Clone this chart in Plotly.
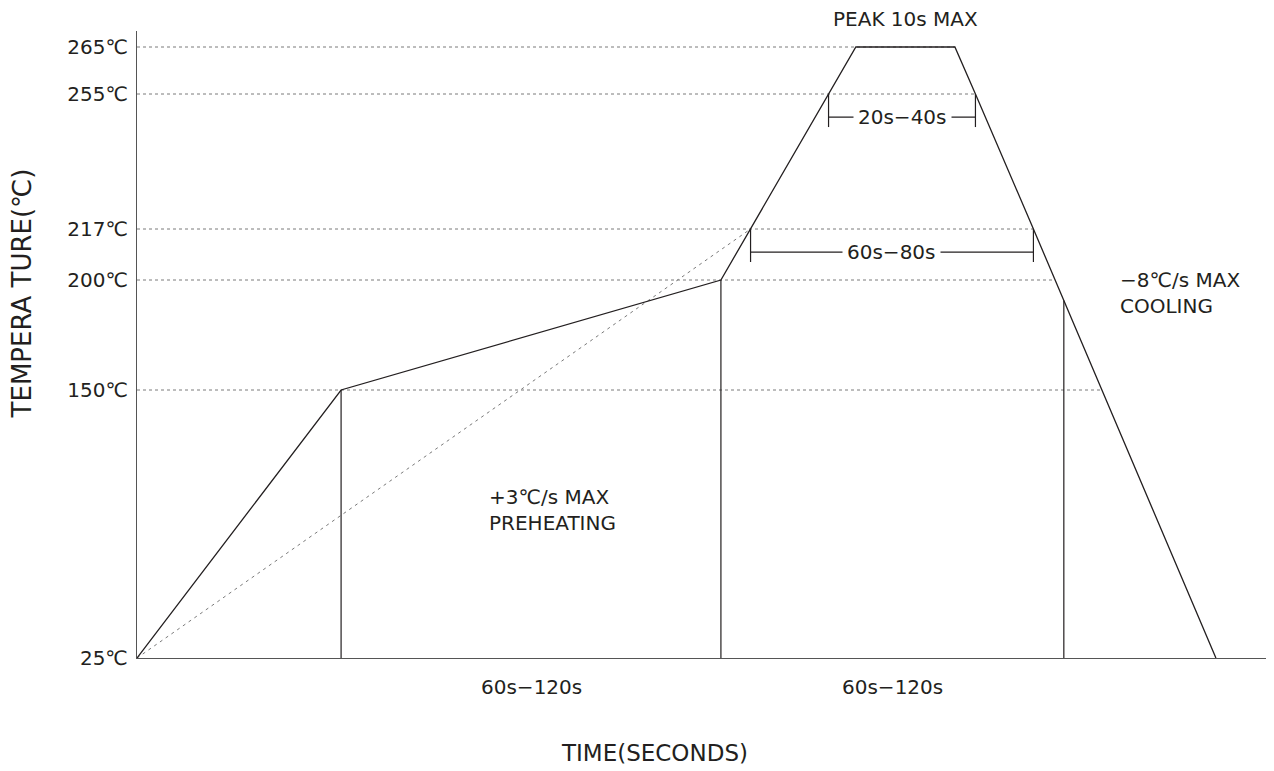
import numpy as np
import plotly.graph_objects as go

# ---- data ----
TEMP_TICKS = [25, 150, 200, 217, 255, 265]
TICK_TEXT = ["25℃", "150℃", "200℃", "217℃", "255℃", "265℃"]
# non-linear axis scale: axis position of each tick temperature
AXIS_LEVEL = [0, 268, 378, 429, 564, 611]

PROFILE_TIME = [0, 78.5, 224.6, 236, 266, 276.5, 314.6, 322.5, 344.8, 415]
PROFILE_TEMP = [25, 150, 200, 217, 255, 265, 265, 255, 217, 25]

MARK_TIMES = [78.5, 224.6, 356.5]          # vertical phase markers
GRID_TEMPS = [150, 200, 217, 255, 265]       # dashed reference levels
REF_START = (0, 25)                          # dotted reference line
REF_END = (236, 217)

DIM_20_40 = dict(t0=266, t1=322.5, temp=248.5, tick_lo=245.7, tick_hi=255, label="20s−40s")
DIM_60_80 = dict(t0=236, t1=344.8, temp=209.3, tick_lo=206, tick_hi=217, label="60s−80s")

PHASE_LABELS = ["60s−120s", "60s−120s"]

FONT = "DejaVu Sans, Noto Sans CJK SC"
INK = "#231f20"
GRID = "#7a7a7a"
AXIS = "#555555"


def ypos(t):
    return np.interp(t, TEMP_TICKS, AXIS_LEVEL)


prof_y = ypos(np.array(PROFILE_TEMP, dtype=float))

fig = go.Figure()

# descending branch for where the dashed lines end
desc_t = np.array(PROFILE_TIME[6:])
desc_y = prof_y[6:]

for tmp in GRID_TEMPS:
    yv = ypos(tmp)
    t_end = np.interp(yv, desc_y[::-1], desc_t[::-1])
    fig.add_trace(go.Scatter(x=[0, t_end], y=[yv, yv], mode="lines",
                             line=dict(color=GRID, width=1, dash="3px,3px"),
                             hoverinfo="skip", showlegend=False))

# dotted straight reference line
fig.add_trace(go.Scatter(x=[REF_START[0], REF_END[0]],
                         y=[ypos(REF_START[1]), ypos(REF_END[1])], mode="lines",
                         line=dict(color=GRID, width=1, dash="3px,4px"),
                         hoverinfo="skip", showlegend=False))

# vertical phase markers
for t in MARK_TIMES:
    top = np.interp(t, PROFILE_TIME, prof_y)
    fig.add_trace(go.Scatter(x=[t, t], y=[ypos(25), top], mode="lines",
                             line=dict(color=INK, width=1.2),
                             hoverinfo="skip", showlegend=False))

# profile
fig.add_trace(go.Scatter(x=PROFILE_TIME, y=prof_y, mode="lines",
                         line=dict(color=INK, width=1.3),
                         hoverinfo="skip", showlegend=False))

annotations = []

# dimension lines
for d in (DIM_20_40, DIM_60_80):
    yv = ypos(d["temp"])
    fig.add_trace(go.Scatter(x=[d["t0"], d["t1"]], y=[yv, yv], mode="lines",
                             line=dict(color=INK, width=1.2),
                             hoverinfo="skip", showlegend=False))
    for t in (d["t0"], d["t1"]):
        fig.add_trace(go.Scatter(x=[t, t], y=[ypos(d["tick_lo"]), ypos(d["tick_hi"])],
                                 mode="lines", line=dict(color=INK, width=1.2),
                                 hoverinfo="skip", showlegend=False))
    annotations.append(dict(x=(d["t0"] + d["t1"]) / 2, y=yv, xref="x", yref="y",
                            text=d["label"], showarrow=False, bgcolor="white",
                            borderpad=4, font=dict(size=20, color=INK, family=FONT)))

# phase labels below the axis
seg_bounds = [(MARK_TIMES[0], MARK_TIMES[1]), (MARK_TIMES[1], MARK_TIMES[2])]
for (a, b), lab in zip(seg_bounds, PHASE_LABELS):
    annotations.append(dict(x=(a + b) / 2, y=ypos(25), xref="x", yref="y", yshift=-29,
                            text=lab, showarrow=False,
                            font=dict(size=20, color=INK, family=FONT)))

annotations += [
    dict(x=(PROFILE_TIME[5] + PROFILE_TIME[6]) / 2, y=ypos(265), xref="x", yref="y",
         yshift=28, text="PEAK 10s MAX", showarrow=False,
         font=dict(size=20, color=INK, family=FONT)),
    dict(x=134.6, y=ypos(94), xref="x", yref="y", xanchor="left", align="left",
         text="+3℃/s MAX<br>PREHEATING", showarrow=False,
         font=dict(size=20, color=INK, family=FONT)),
    dict(x=377.3, y=ypos(194), xref="x", yref="y", xanchor="left", align="left",
         text="−8℃/s MAX<br>COOLING", showarrow=False,
         font=dict(size=20, color=INK, family=FONT)),
    dict(x=-0.1015, y=0.5815, xref="paper", yref="paper", textangle=-90,
         xanchor="center", yanchor="middle",
         text="TEMPERA TURE(℃)", showarrow=False,
         font=dict(size=26, color=INK, family=FONT)),
    dict(x=0.457, y=-0.1515, xref="paper", yref="paper",
         xanchor="center", yanchor="middle",
         text="TIME(SECONDS)", showarrow=False,
         font=dict(size=23, color=INK, family=FONT)),
]

# page body has an 8px margin: shrink figure so the plot lands where the reference has it
fig.update_layout(
    width=1266, height=763,
    margin=dict(l=129, r=4, t=23, b=113),
    paper_bgcolor="white", plot_bgcolor="white",
    showlegend=False,
    annotations=annotations,
    xaxis=dict(range=[0, 435.8], showgrid=False, zeroline=False, showticklabels=False,
               ticks="", showline=True, linecolor=AXIS, linewidth=1.3),
    yaxis=dict(range=[0, 627], showgrid=False, zeroline=False,
               tickmode="array", tickvals=[ypos(t) for t in TEMP_TICKS], ticktext=TICK_TEXT,
               ticks="", ticklabelstandoff=4,
               tickfont=dict(size=20, color=INK, family=FONT),
               showline=True, linecolor=AXIS, linewidth=1.3),
)

fig.write_html("out.html")
